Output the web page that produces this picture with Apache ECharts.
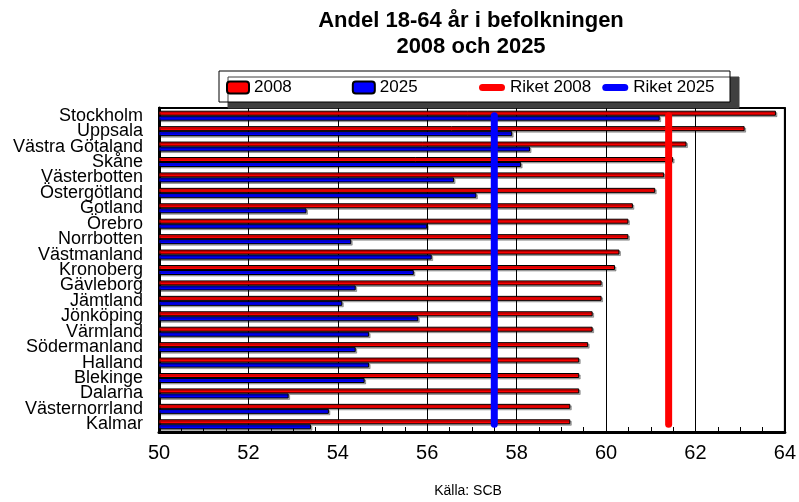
<!DOCTYPE html>
<html>
<head>
<meta charset="utf-8">
<script src="https://cdn.jsdelivr.net/npm/echarts@6/dist/echarts.min.js"></script>
<style>
html, body { margin: 0; padding: 0; background: #fff; }
#chart { width: 799px; height: 502px; }
</style>
</head>
<body>
<div id="chart"></div>
<script>
// län, uppifrån och ned
var lan = ['Stockholm', 'Uppsala', 'Västra Götaland', 'Skåne', 'Västerbotten', 'Östergötland',
	'Gotland', 'Örebro', 'Norrbotten', 'Västmanland', 'Kronoberg', 'Gävleborg', 'Jämtland',
	'Jönköping', 'Värmland', 'Södermanland', 'Halland', 'Blekinge', 'Dalarna', 'Västernorrland', 'Kalmar'];
var andel2008 = [63.8, 63.1, 61.8, 61.5, 61.3, 61.1, 60.6, 60.5, 60.5, 60.3, 60.2, 59.9, 59.9,
	59.7, 59.7, 59.6, 59.4, 59.4, 59.4, 59.2, 59.2];
var andel2025 = [61.2, 57.9, 58.3, 58.1, 56.6, 57.1, 53.3, 56.0, 54.3, 56.1, 55.7, 54.4, 54.1,
	55.8, 54.7, 54.4, 54.7, 54.6, 52.9, 53.8, 53.4];
var riket2008 = 61.4;
var riket2025 = 57.5;
var xTicks = [50, 52, 54, 56, 58, 60, 62, 64];

var FONT = 'Liberation Sans, Arial, sans-serif';
var pill = 'path://M3.5,0 L22.5,0 A3.5,3.5 0 0 1 22.5,7 L3.5,7 A3.5,3.5 0 0 1 3.5,0 Z';

function barSeries(name, data, color) {
	return {
		name: name,
		type: 'bar',
		data: data,
		barWidth: 5,
		barGap: '0%',
		itemStyle: {
			color: color,
			borderColor: '#000',
			borderWidth: 1,
			shadowColor: 'rgba(0,0,0,0.3)',
			shadowOffsetX: 1.5,
			shadowOffsetY: 1.5,
			shadowBlur: 0
		}
	};
}

function riketSeries(name, value, color) {
	return {
		name: name,
		type: 'line',
		data: [[value, lan[0]], [value, lan[lan.length - 1]]],
		symbol: 'none',
		z: 5,
		lineStyle: { color: color, width: 7, cap: 'round' },
		itemStyle: { color: color }
	};
}

var myChart = echarts.init(document.getElementById('chart'));
var option = {
	animation: false,
	backgroundColor: '#fff',
	textStyle: { fontFamily: FONT, color: '#000' },
	graphic: [
		{
			type: 'text', x: 471, y: 8, z: 10,
			style: {
				text: 'Andel 18-64 år i befolkningen\n2008 och 2025',
				font: 'bold 22px ' + FONT, fill: '#000', lineHeight: 26,
				align: 'center', verticalAlign: 'top'
			}
		},
		{
			type: 'rect', z: 0,
			shape: { x: 219, y: 71, width: 511, height: 31 },
			style: { fill: '#fff', stroke: '#000', lineWidth: 1,
				shadowColor: '#404040', shadowOffsetX: 9, shadowOffsetY: 6, shadowBlur: 0 }
		},
		{
			type: 'text', x: 468, y: 484, z: 10,
			style: { text: 'Källa: SCB', font: '14px ' + FONT, fill: '#000', align: 'center', verticalAlign: 'top' }
		}
	],
	legend: [
		{
			data: ['2008', '2025'],
			left: 226, top: 79, padding: 0, z: 10,
			itemWidth: 22, itemHeight: 12, itemGap: 60,
			textStyle: { fontSize: 17, fontFamily: FONT, color: '#000' }
		},
		{
			data: [
				{ name: 'Riket 2008', icon: pill, itemStyle: { color: '#ff0000', borderWidth: 0 } },
				{ name: 'Riket 2025', icon: pill, itemStyle: { color: '#0000ff', borderWidth: 0 } }
			],
			left: 479, top: 79, padding: 0, z: 10,
			itemWidth: 26, itemHeight: 7, itemGap: 11,
			textStyle: { fontSize: 17, fontFamily: FONT, color: '#000' }
		}
	],
	grid: {
		left: 159, right: 11, top: 108, bottom: 70,
		show: true, borderColor: '#000', borderWidth: 2, backgroundColor: 'transparent'
	},
	xAxis: {
		type: 'value',
		min: xTicks[0],
		max: xTicks[xTicks.length - 1],
		interval: 2,
		axisLine: { show: true, onZero: false, lineStyle: { color: '#000', width: 3 } },
		axisTick: { show: true, inside: true, length: 5, lineStyle: { color: '#000' } },
		minorTick: { show: true, splitNumber: 4, length: 5, lineStyle: { color: '#000' } },
		splitLine: { show: true, lineStyle: { color: '#000', width: 1 } },
		axisLabel: { fontSize: 20, color: '#000', fontFamily: FONT, margin: 11 }
	},
	yAxis: {
		type: 'category',
		data: lan,
		inverse: true,
		axisLine: { show: true, lineStyle: { color: '#000', width: 3 } },
		axisTick: { show: false },
		axisLabel: { interval: 0, fontSize: 18, lineHeight: 15, color: '#000', fontFamily: FONT, margin: 16 }
	},
	series: [
		barSeries('2008', andel2008, '#ff0000'),
		barSeries('2025', andel2025, '#0000ff'),
		riketSeries('Riket 2008', riket2008, '#ff0000'),
		riketSeries('Riket 2025', riket2025, '#0000ff')
	]
};
myChart.setOption(option);
</script>
</body>
</html>
